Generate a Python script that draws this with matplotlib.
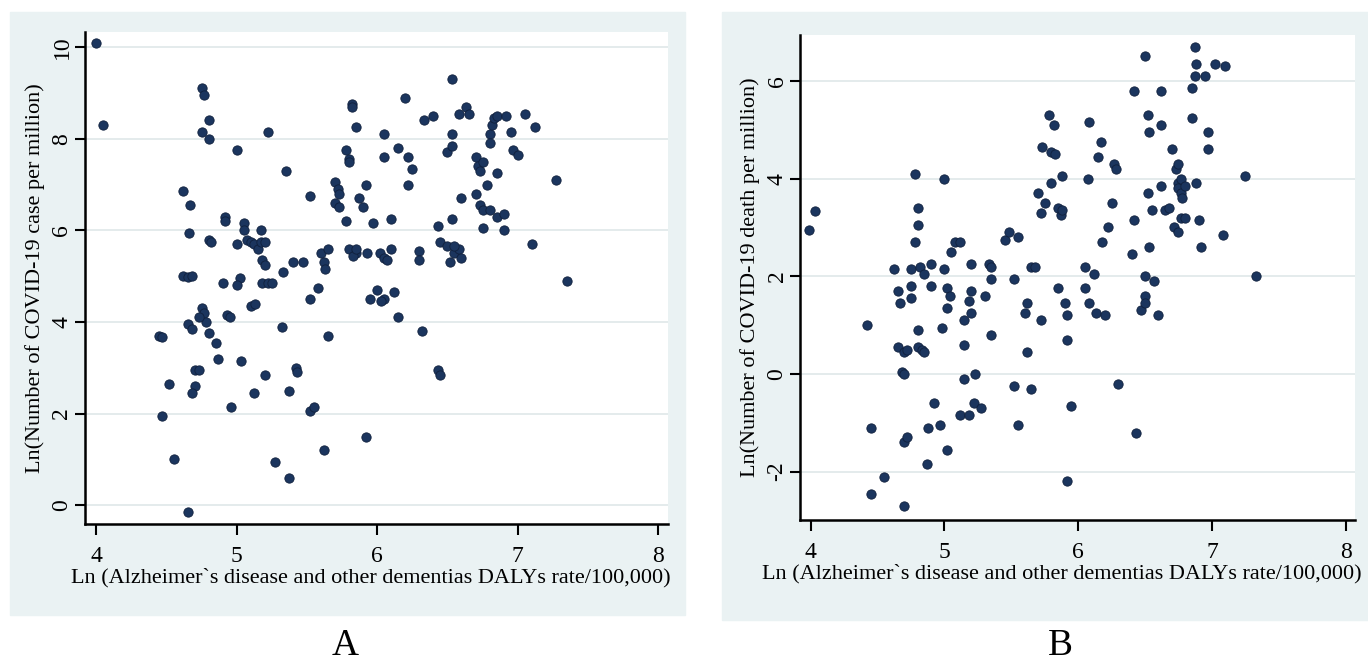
import matplotlib
matplotlib.use("Agg")
import matplotlib.pyplot as plt
from matplotlib.patches import Rectangle

plt.rcParams['font.family'] = ['Liberation Serif', 'DejaVu Serif']

# Panel A: Ln(cases per million) vs Ln(DALYs rate)
case_x = [4.0, 4.05, 4.45, 4.47, 4.47, 4.52, 4.55, 4.62, 4.62, 4.65, 4.68, 4.67, 4.66,
          4.65, 4.68, 4.7, 4.68, 4.7, 4.73, 4.65, 4.75, 4.77, 4.75, 4.8, 4.8, 4.75, 4.77,
          4.78, 4.73, 4.8, 4.8, 4.82, 4.85, 4.87, 4.9, 4.92, 4.92, 4.93, 4.95, 4.96, 5.0,
          5.0, 5.02, 5.0, 5.03, 5.05, 5.05, 5.07, 5.1, 5.12, 5.15, 5.17, 5.2, 5.1, 5.13,
          5.12, 5.17, 5.18, 5.2, 5.18, 5.22, 5.25, 5.2, 5.22, 5.27, 5.32, 5.35, 5.37, 5.33,
          5.37, 5.4, 5.42, 5.43, 5.47, 5.52, 5.52, 5.55, 5.52, 5.58, 5.6, 5.62, 5.63, 5.62,
          5.65, 5.65, 5.7, 5.72, 5.73, 5.7, 5.73, 5.78, 5.78, 5.8, 5.8, 5.82, 5.82, 5.85,
          5.8, 5.85, 5.83, 5.85, 5.87, 5.9, 5.92, 5.93, 5.92, 5.95, 5.97, 6.0, 6.05, 6.03,
          6.02, 6.05, 6.05, 6.05, 6.07, 6.1, 6.1, 6.12, 6.15, 6.15, 6.2, 6.22, 6.22, 6.25,
          6.3, 6.3, 6.32, 6.33, 6.4, 6.43, 6.45, 6.5, 6.43, 6.45, 6.5, 6.53, 6.53, 6.53,
          6.53, 6.52, 6.55, 6.58, 6.6, 6.55, 6.58, 6.6, 6.63, 6.65, 6.7, 6.72, 6.73, 6.75,
          6.7, 6.73, 6.75, 6.8, 6.75, 6.78, 6.8, 6.82, 6.83, 6.85, 6.8, 6.85, 6.85, 6.9,
          6.9, 6.92, 6.95, 6.97, 7.0, 7.05, 7.1, 7.12, 7.27, 7.35]
case_y = [10.1, 8.3, 3.7, 3.68, 1.95, 2.65, 1.0, 6.85, 5.0, 4.98, 5.0, 6.55, 5.95,
          3.95, 3.85, 2.6, 2.45, 2.95, 2.95, -0.15, 9.1, 8.95, 8.15, 8.4, 8.0, 4.3, 4.2,
          4.0, 4.1, 3.75, 5.8, 5.75, 3.55, 3.2, 4.85, 6.3, 6.2, 4.15, 4.1, 2.15, 7.75,
          5.7, 4.95, 4.8, 3.15, 6.15, 6.0, 5.8, 5.75, 5.7, 5.6, 5.75, 5.75, 4.35, 4.4,
          2.45, 6.0, 5.35, 5.25, 4.85, 4.85, 4.85, 2.85, 8.15, 0.95, 3.9, 7.3, 2.5, 5.1,
          0.6, 5.3, 3.0, 2.9, 5.3, 6.75, 2.05, 2.15, 4.5, 4.75, 5.5, 5.3, 5.15, 1.2,
          3.7, 5.6, 7.05, 6.9, 6.8, 6.6, 6.5, 6.2, 7.75, 7.55, 7.5, 8.75, 8.7, 8.25,
          5.6, 5.5, 5.45, 5.6, 6.7, 6.5, 7.0, 5.5, 1.5, 4.5, 6.15, 4.7, 4.5, 4.45,
          5.5, 8.1, 7.6, 5.4, 5.35, 6.25, 5.6, 4.65, 7.8, 4.1, 8.9, 7.6, 7.0, 7.35,
          5.55, 5.35, 3.8, 8.4, 8.5, 6.1, 5.75, 5.65, 2.95, 2.85, 7.7, 7.85, 8.1, 9.3,
          6.25, 5.3, 5.5, 5.6, 5.4, 5.65, 8.55, 6.7, 8.7, 8.55, 7.6, 7.4, 7.3, 7.5,
          6.8, 6.55, 6.45, 6.45, 6.05, 7.0, 8.1, 8.3, 8.45, 8.5, 7.9, 7.25, 6.3, 6.35,
          6.0, 8.5, 8.15, 7.75, 7.65, 8.55, 5.7, 8.25, 7.1, 4.9]

# Panel B: Ln(deaths per million) vs Ln(DALYs rate)
death_x = [3.99, 4.03, 4.42, 4.45, 4.45, 4.55, 4.62, 4.65, 4.67, 4.65, 4.7, 4.72, 4.68,
           4.7, 4.7, 4.72, 4.7, 4.75, 4.75, 4.75, 4.78, 4.78, 4.8, 4.8, 4.8, 4.83, 4.85,
           4.8, 4.82, 4.85, 4.87, 4.88, 4.9, 4.9, 4.92, 4.97, 4.98, 5.0, 5.0, 5.02, 5.04,
           5.02, 5.02, 5.05, 5.08, 5.12, 5.12, 5.15, 5.15, 5.15, 5.18, 5.18, 5.2, 5.2, 5.2,
           5.22, 5.23, 5.27, 5.3, 5.33, 5.35, 5.35, 5.35, 5.45, 5.48, 5.52, 5.52, 5.55, 5.55,
           5.6, 5.62, 5.62, 5.65, 5.65, 5.68, 5.7, 5.72, 5.72, 5.75, 5.73, 5.78, 5.82, 5.8,
           5.8, 5.83, 5.85, 5.87, 5.88, 5.88, 5.85, 5.9, 5.92, 5.92, 5.92, 5.95, 6.05, 6.05,
           6.08, 6.07, 6.08, 6.12, 6.13, 6.17, 6.15, 6.18, 6.2, 6.25, 6.22, 6.27, 6.28, 6.3,
           6.4, 6.42, 6.42, 6.43, 6.47, 6.5, 6.5, 6.5, 6.52, 6.5, 6.52, 6.53, 6.53, 6.55,
           6.57, 6.6, 6.62, 6.62, 6.62, 6.65, 6.68, 6.7, 6.72, 6.73, 6.75, 6.75, 6.75, 6.77,
           6.77, 6.78, 6.75, 6.77, 6.8, 6.8, 6.85, 6.85, 6.87, 6.88, 6.87, 6.88, 6.9, 6.92,
           6.95, 6.97, 6.97, 7.02, 7.08, 7.1, 7.25, 7.33]
death_y = [2.95, 3.33, 1.0, -1.1, -2.45, -2.1, 2.15, 1.7, 1.45, 0.55, 0.45, 0.5, 0.05,
           0.0, -1.4, -1.3, -2.7, 2.15, 1.8, 1.55, 4.1, 2.7, 3.4, 3.05, 0.55, 0.5, 0.45,
           0.9, 2.2, 2.05, -1.85, -1.1, 2.25, 1.8, -0.6, -1.05, 0.95, 4.0, 2.15, 1.75, 1.6,
           1.35, -1.55, 2.5, 2.7, 2.7, -0.85, 1.1, 0.6, -0.1, -0.85, 1.5, 1.7, 1.25, 2.25,
           -0.6, 0.0, -0.7, 1.6, 2.25, 2.2, 1.95, 0.8, 2.75, 2.9, 1.95, -0.25, -1.05, 2.8,
           1.25, 1.45, 0.45, -0.3, 2.2, 2.2, 3.7, 3.3, 1.1, 3.5, 4.65, 5.3, 5.1, 3.9,
           4.55, 4.5, 3.4, 3.25, 4.05, 3.35, 1.75, 1.45, 1.2, 0.7, -2.2, -0.65, 2.2, 1.75,
           1.45, 4.0, 5.15, 2.05, 1.25, 4.75, 4.45, 2.7, 1.2, 3.5, 3.0, 4.3, 4.2, -0.2,
           2.45, 5.8, 3.15, -1.2, 1.3, 2.0, 1.6, 1.45, 3.7, 6.5, 5.3, 4.95, 2.6, 3.35,
           1.9, 1.2, 3.85, 5.1, 5.8, 3.35, 3.4, 4.6, 3.0, 4.2, 4.3, 3.9, 3.8, 4.0,
           3.7, 3.6, 2.9, 3.2, 3.85, 3.2, 5.85, 5.25, 6.1, 6.35, 6.7, 3.9, 3.15, 2.6,
           6.1, 4.95, 4.6, 6.35, 2.85, 6.3, 4.05, 2.0]

x_ticks = [4, 5, 6, 7, 8]
case_ticks = [0, 2, 4, 6, 8, 10]
death_ticks = [-2, 0, 2, 4, 6]
x_label = "Ln (Alzheimer`s disease and other dementias DALYs rate/100,000)"
case_label = "Ln(Number of COVID-19 case per million)"
death_label = "Ln(Number of COVID-19 death per million)"

W, H = 1368, 663
bg = "#eaf2f3"
dot = "#1b355e"

fig = plt.figure(figsize=(W / 100, H / 100), dpi=100)
fig.patch.set_facecolor("white")

# stata style grey boxes behind each graph
fig.patches.append(Rectangle((10 / W, 1 - 615 / H), 675 / W, 603 / H,
                             transform=fig.transFigure, color=bg, zorder=-10))
fig.patches.append(Rectangle((722 / W, 1 - 620 / H), 646 / W, 608 / H,
                             transform=fig.transFigure, color=bg, zorder=-10))


def panel(rect, xs, ys, yticks, ylabel, xlim, ylim, letter, lx, xl_pos):
    ax = fig.add_axes(rect)
    ax.set_facecolor("white")
    ax.scatter(xs, ys, s=45, color=dot, edgecolors="#10203d", linewidths=0.6, zorder=3)
    ax.set_xlim(*xlim)
    ax.set_ylim(*ylim)
    ax.set_xticks(x_ticks)
    ax.set_yticks(yticks)
    ax.set_yticklabels([str(t) for t in yticks], rotation=90, va="center")
    ax.grid(axis="y", color="#e4ebec", linewidth=1.4, zorder=0)
    ax.set_axisbelow(True)
    for s in ["top", "right"]:
        ax.spines[s].set_visible(False)
    for s in ["left", "bottom"]:
        ax.spines[s].set_linewidth(1.8)
    ax.tick_params(axis="x", length=8, width=1.5, pad=8, labelsize=17)
    ax.tick_params(axis="y", length=7, width=1.5, pad=2, labelsize=17)
    ax.set_xlabel(x_label, fontsize=16, labelpad=1)
    # label top sits about 44 px under the x axis
    ax.xaxis.set_label_coords(xl_pos, -44 / (rect[3] * H))
    ax.set_ylabel(ylabel, fontsize=16, labelpad=5)
    fig.text(lx / W, 1 - 646 / H, letter, fontsize=27, ha="center", va="center")
    return ax


panel([85 / W, 1 - 524 / H, 583 / W, 492 / H], case_x, case_y, case_ticks, case_label,
      (3.92, 8.07), (-0.41, 10.33), "A", 345, 0.49)
panel([800 / W, 1 - 520 / H, 555 / W, 485 / H], death_x, death_y, death_ticks, death_label,
      (3.92, 8.07), (-2.99, 6.94), "B", 1060, 0.472)

fig.savefig("out.png", dpi=100)
